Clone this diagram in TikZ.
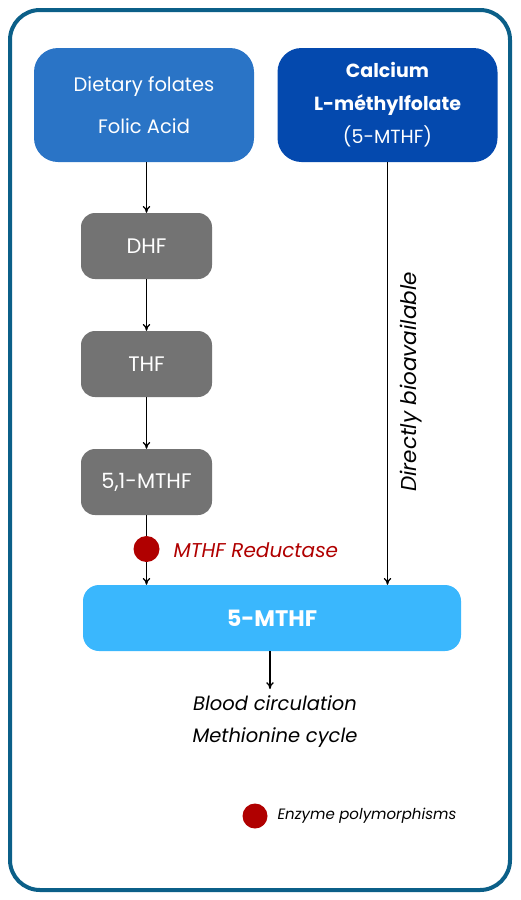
\documentclass[tikz,border=0pt]{standalone}
\usepackage{fontspec}
\setmainfont{Poppins}
\usetikzlibrary{arrows.meta}
\definecolor{framecol}{HTML}{0B5F88}
\definecolor{dietcol}{HTML}{2A74C6}
\definecolor{calccol}{HTML}{0449AE}
\definecolor{stepgray}{HTML}{737373}
\definecolor{targetcol}{HTML}{3AB7FD}
\definecolor{enzred}{HTML}{B00000}
\tikzset{
  srcbox/.style   = {rounded corners=24pt,minimum width=220pt,minimum height=114pt,
                     text=white,align=center,inner sep=0pt},
  stepbox/.style  = {fill=stepgray,rounded corners=14pt,minimum width=131pt,
                     minimum height=66pt,text=white,font=\fontsize{21}{24}\selectfont},
  flowarr/.style  = {-{To[length=2.4mm,width=2.6mm]},line width=1.3pt},
  enzdot/.style   = {circle,fill=enzred,minimum size=26pt,inner sep=0pt}
}

\begin{document}
\begin{tikzpicture}[x=1pt,y=-1pt]
  \useasboundingbox (0,0) rectangle (520,900);
  \draw[framecol,line width=4pt,rounded corners=30pt] (10,10) rectangle (510,890);
  % sources
  \node[srcbox,fill=dietcol,font=\fontsize{19.5}{42}\selectfont] (diet) at (144,105)
    {Dietary folates\\Folic Acid};
  \node[srcbox,fill=calccol,font=\fontsize{19}{33}\selectfont] (calc) at (387.5,105)
    {\textbf{Calcium}\\\textbf{L-méthylfolate}\\(5-MTHF)};
  % conversion steps
  \node[stepbox] (dhf)   at (146.5,246) {DHF};
  \node[stepbox] (thf)   at (146.5,364) {THF};
  \node[stepbox] (mthfa) at (146.5,482) {5,1-MTHF};
  \node[fill=targetcol,rounded corners=16pt,minimum width=378pt,minimum height=66pt,
        text=white,font=\fontsize{22.5}{26}\selectfont\bfseries] (target) at (272,618) {5-MTHF};
  \node[enzdot] (mthfr) at (146.5,549) {};
  \node[right,enzred,font=\fontsize{20}{24}\selectfont\itshape] (mthfrlbl) at (170,550)
    {MTHF Reductase};
  \node[rotate=90,font=\fontsize{21.5}{24}\selectfont\itshape] (bioav) at (411,382)
    {Directly bioavailable};
  \node[align=center,font=\fontsize{19.5}{32}\selectfont\itshape] (out) at (275,722)
    {Blood circulation\\Methionine cycle};
  % legend
  \node[enzdot,minimum size=25pt] (legdot) at (255,816) {};
  \node[right,font=\fontsize{15}{18}\selectfont\itshape] (legtxt) at (274,816)
    {Enzyme polymorphisms};
  % arrows
  \draw[flowarr] (dhf.north |- diet.south) -- (dhf.north);
  \draw[flowarr] (dhf) -- (thf);
  \draw[flowarr] (thf) -- (mthfa);
  \draw[line width=1.3pt] (mthfa) -- (mthfr);
  \draw[flowarr] (mthfr) -- (mthfr |- target.north);
  \draw[flowarr] (calc.south) -- (calc.south |- target.north);
  \coordinate (outtop) at (270,689);
  \draw[flowarr] (outtop |- target.south) -- (outtop);
\end{tikzpicture}
\end{document}
